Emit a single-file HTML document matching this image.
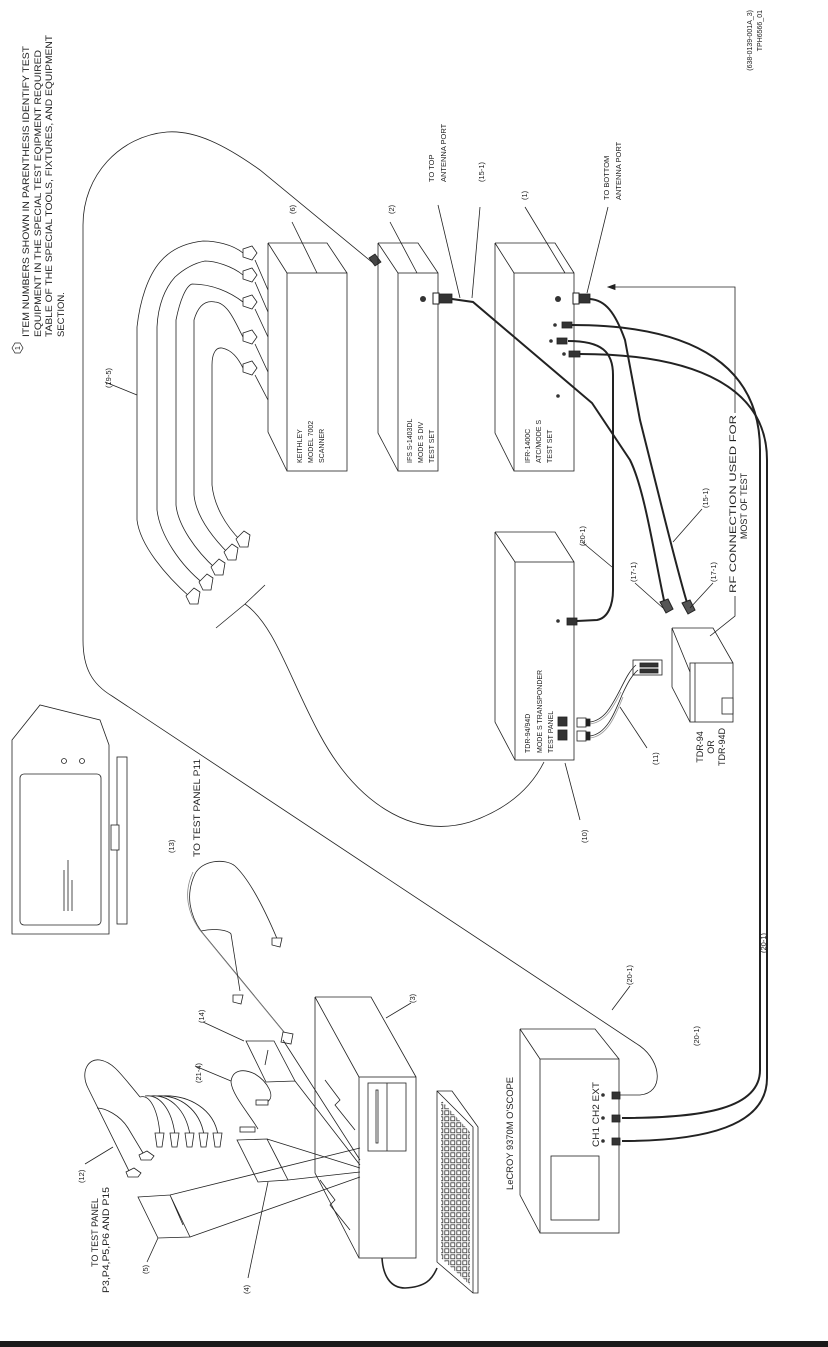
<!DOCTYPE html>
<html><head><meta charset="utf-8"><style>
html,body{margin:0;padding:0;background:#fff;}
svg{display:block;}
text{font-family:"Liberation Sans",sans-serif;fill:#222;}
.m{font-family:"Liberation Mono",monospace;font-size:7px;}
.l{font-size:7.5px;}
</style></head><body>
<svg width="828" height="1347" viewBox="0 0 828 1347" xmlns="http://www.w3.org/2000/svg">
<defs>
<pattern id="keys" width="6" height="6" patternUnits="userSpaceOnUse">
<rect x="0.8" y="0.8" width="4" height="4" fill="none" stroke="#333" stroke-width="0.8"/>
</pattern>
</defs>
<g fill="none" stroke="#222" stroke-width="0.8">

<path d="M373,263 L260,170 C225,145 195,130 167,132 C120,136 83,175 83,225 L83,640 C83,668 92,684 112,696 L640,1046 C662,1062 664,1093 640,1095 L620,1095"/>
<path d="M369,258 l6,-4 l6,8 l-6,4 z" fill="#444"/>

<path d="M243,253 C232,244 215,241 203,241 C185,243 170,250 160,262 C148,276 140,300 137,327 L137,520 C140,545 165,575 191,598"/>
<path d="M243,275 C232,266 215,261 205,261 C195,263 185,268 175,277 C165,288 158,305 157,327 L157,510 C160,535 180,565 204,584"/>
<path d="M243,302 C230,292 212,284 192,284 C186,286 180,300 176,320 L176,505 C178,525 195,550 216,569"/>
<path d="M243,337 C235,322 228,303 215,302 C205,300 198,306 194,320 L194,495 C196,515 210,535 229,554"/>
<path d="M243,368 C238,358 232,350 222,348 C215,347 212,355 212,365 L212,485 C214,505 225,525 241,541"/>
<g fill="#fff">
<path d="M243,249 l9,-3 l5,7 l-5,7 l-9,-3 z"/><path d="M243,271 l9,-3 l5,7 l-5,7 l-9,-3 z"/>
<path d="M243,298 l9,-3 l5,7 l-5,7 l-9,-3 z"/><path d="M243,333 l9,-3 l5,7 l-5,7 l-9,-3 z"/>
<path d="M243,364 l9,-3 l5,7 l-5,7 l-9,-3 z"/>
<path d="M186,596 l8,-8 l6,4 l-2,12 l-8,0 z"/><path d="M199,582 l8,-8 l6,4 l-2,12 l-8,0 z"/>
<path d="M211,567 l8,-8 l6,4 l-2,12 l-8,0 z"/><path d="M224,552 l8,-8 l6,4 l-2,12 l-8,0 z"/>
<path d="M236,539 l8,-8 l6,4 l-2,12 l-8,0 z"/>
</g>
<path d="M255,260 L268,290 M255,282 L268,312 M255,309 L268,337 M255,344 L268,372 M255,375 L268,400"/>
<path d="M216,628 L245,604 L265,585"/>
<path d="M245,604 C275,625 290,680 320,735 C355,800 410,840 470,822 C505,810 530,790 544,762"/>

<path d="M268,243 L327,243 L347,273 M268,243 L287,273 M268,243 L268,432 L287,471"/>
<rect x="287" y="273" width="60" height="198"/>
<path d="M378,243 L418,243 L438,273 M378,243 L398,273 M378,243 L378,433 L398,471"/>
<rect x="398" y="273" width="40" height="198"/>
<path d="M495,243 L555,243 L574,273 M495,243 L514,273 M495,243 L495,433 L514,471"/>
<rect x="514" y="273" width="60" height="198"/>
<path d="M495,532 L555,532 L574,562 M495,532 L515,562 M495,532 L495,722 L515,760"/>
<rect x="515" y="562" width="59" height="198"/>
<path d="M520,1029 L595,1029 L619,1059 M520,1029 L540,1059 M520,1029 L520,1195 L540,1233"/>
<rect x="540" y="1059" width="79" height="174"/>
<rect x="551" y="1156" width="48" height="64"/>
<path d="M315,997 L371,997 L416,1077 M315,997 L359,1077 M315,997 L315,1173 L359,1258"/>
<rect x="359" y="1077" width="57" height="181"/>
<rect x="368" y="1083" width="38" height="68"/><path d="M387,1083 L387,1151"/>
<rect x="376" y="1090" width="2" height="53"/>
<path d="M320,1180 l15,20 l-5,5 l20,25 M325,1080 l15,20 l-5,5 l20,25"/>
<path d="M437,1091 L452,1091 L478,1127 L478,1293 L473,1293 L437,1262 Z M437,1091 L473,1127 L473,1293"/>
<path d="M441,1100 L470,1132 L470,1285 L441,1258 Z" fill="url(#keys)" stroke="none"/>
<path d="M382,1258 C383,1275 390,1288 405,1288 C425,1287 432,1280 437,1268" stroke-width="1.6"/>

<path d="M672,628 L713,628 L733,663 M672,628 L690,672 M672,628 L672,687 L690,722"/>
<rect x="690" y="663" width="43" height="59"/>
<path d="M695,663 L695,722"/>
<rect x="722" y="698" width="11" height="16" fill="#fff"/>
<rect x="633" y="660" width="29" height="15" fill="#fff"/>
<rect x="640" y="663" width="18" height="4" fill="#333"/><rect x="640" y="669" width="18" height="4" fill="#333"/>
<path d="M590,722 C605,720 612,705 620,690 C626,678 630,670 636,665 M590,736 C607,734 615,712 622,695 C628,682 632,675 638,670"/>
<path d="M590,724 C606,722 613,707 621,692 M590,738 C608,736 616,714 623,697" stroke="#999"/>
<rect x="577" y="718" width="9" height="9" fill="#fff"/><rect x="577" y="731" width="9" height="10" fill="#fff"/>
<rect x="586" y="719" width="4" height="7" fill="#222"/><rect x="586" y="732" width="4" height="8" fill="#222"/>
<rect x="558" y="717" width="9" height="9" fill="#333"/><rect x="558" y="730" width="9" height="10" fill="#333"/>

<g stroke-width="2">
<path d="M577,621 L597,620 C608,618 613,605 613,590 L613,375 C613,352 602,341 568,341"/>
<path d="M452,299 L473,302 L592,403 L630,460 C645,490 655,560 665,605"/>
<path d="M590,299 C605,300 615,312 625,340 L640,420 L660,500 C670,540 680,580 688,606"/>
<path d="M572,325 C700,325 760,370 760,450 L760,1070 C760,1108 705,1118 622,1118"/>
<path d="M580,354 C700,354 767,390 767,460 L767,1078 C767,1126 705,1141 622,1141"/>
</g>
<rect x="433" y="293" width="6" height="11" fill="#fff" stroke-width="1"/><rect x="439" y="294" width="13" height="9" fill="#333"/>
<rect x="573" y="293" width="6" height="11" fill="#fff" stroke-width="1"/><rect x="579" y="294" width="11" height="9" fill="#333"/>
<rect x="562" y="322" width="10" height="6" fill="#333"/><rect x="557" y="338" width="10" height="6" fill="#333"/><rect x="569" y="351" width="11" height="6" fill="#333"/>
<rect x="567" y="618" width="10" height="7" fill="#333"/>
<rect x="612" y="1092" width="8" height="7" fill="#333"/><rect x="612" y="1115" width="8" height="7" fill="#333"/><rect x="612" y="1138" width="8" height="7" fill="#333"/>
<g fill="#333" stroke="none">
<circle cx="423" cy="299" r="3"/><circle cx="558" cy="299" r="3"/><circle cx="555" cy="325" r="1.8"/><circle cx="551" cy="341" r="1.8"/><circle cx="564" cy="354" r="1.8"/><circle cx="558" cy="396" r="1.8"/><circle cx="558" cy="621" r="1.8"/>
<circle cx="603" cy="1095" r="1.8"/><circle cx="603" cy="1118" r="1.8"/><circle cx="603" cy="1141" r="1.8"/>
</g>
<path d="M660,602 l8,-3 l5,10 l-7,4 z M682,603 l8,-3 l5,10 l-7,4 z" fill="#555" stroke-width="1"/>

<path d="M292,222 L317,273 M390,222 L417,273 M438,205 L460,298 M480,207 L472,298 M525,207 L565,273 M608,207 L587,293"/>
<path d="M105,382 L137,395"/>
<path d="M608,287 L735,287 L735,413"/><path d="M608,287 l7,-2.5 l0,5 z" fill="#222"/>
<path d="M735,596 L735,616 L710,636 M702,509 L673,542 M635,583 L663,608 M713,583 L690,608 M582,542 L612,567 M647,748 L620,707 M580,820 L565,763"/>
<path d="M411,1003 L386,1018 M203,1022 L244,1041 M195,1066 L231,1081 M630,986 L612,1010 M85,1164 L113,1147 M147,1262 L158,1238 M248,1278 L268,1182"/>

<path d="M12,740 L40,705 L100,720 L109,745 L109,934 L12,934 Z"/>
<rect x="20" y="774" width="81" height="151" rx="4"/>
<rect x="117" y="757" width="10" height="167"/>
<rect x="111" y="825" width="8" height="25" fill="#fff"/>
<path d="M64,870 L64,911 M68,860 L68,911 M72,880 L72,911"/>
<circle cx="64" cy="761" r="2.5"/><circle cx="82" cy="761" r="2.5"/>

<path d="M289,1038 L201,931 C190,915 185,895 195,874 C202,860 225,858 235,866 C250,880 265,910 278,941"/>
<path d="M287,1036 L199,929 C188,913 183,893 193,872" stroke="#888"/>
<path d="M201,931 C215,928 228,930 231,934 L240,991"/>
<path d="M283,1032 l10,2 l-2,10 l-10,-2 z M272,938 l10,0 l-2,9 l-8,-2 z M233,995 l10,0 l-2,9 l-8,-2 z" fill="#fff"/>
<path d="M246,1041 L274,1041 L295,1081 L266,1082 Z M274,1041 L295,1081 M268,1050 L265,1065 M283,1040 L360,1160 M295,1081 L360,1165"/>
<path d="M267,1102 C276,1097 268,1082 255,1074 C243,1068 232,1070 231,1082 C232,1095 250,1115 258,1129"/>
<rect x="256" y="1100" width="12" height="5" fill="#fff"/><rect x="240" y="1127" width="15" height="5" fill="#fff"/>
<path d="M130,1173 L88,1088 C80,1072 88,1058 100,1060 C112,1062 118,1070 140,1097"/>
<path d="M143,1153 L128,1128 C120,1115 105,1108 97,1108"/>
<path d="M140,1097 C150,1094 158,1110 160,1135 M145,1096 C160,1094 172,1110 175,1135 M150,1096 C170,1094 186,1110 190,1135 M155,1096 C180,1094 200,1110 204,1135 M160,1096 C190,1094 214,1110 218,1135"/>
<g fill="#fff">
<path d="M126,1172 l8,-4 l7,5 l-3,4 l-10,0 z"/><path d="M139,1155 l8,-4 l7,5 l-3,4 l-10,0 z"/>
<path d="M155,1133 l9,0 l-2,14 l-5,0 z"/><path d="M170,1133 l9,0 l-2,14 l-5,0 z"/><path d="M185,1133 l9,0 l-2,14 l-5,0 z"/><path d="M199,1133 l9,0 l-2,14 l-5,0 z"/><path d="M213,1133 l9,0 l-2,14 l-5,0 z"/>
</g>
<path d="M138,1197 L170,1195 L190,1237 L158,1238 Z M170,1195 L183,1225 M170,1195 L360,1148 M190,1237 L360,1177"/>
<path d="M237,1140 L267,1139 L288,1180 L258,1182 Z M267,1139 L283,1170 M267,1139 L360,1168 M288,1180 L360,1172"/>
</g>

<rect x="0" y="1341" width="828" height="6" fill="#1a1a1a"/>

<g font-size="9.5">
<polygon points="12,348 15,343 20,343 23,348 20,353 15,353" fill="none" stroke="#222" stroke-width="0.7"/>
<text font-size="7" transform="translate(20,348) rotate(-90)" text-anchor="middle">1</text>
<text transform="translate(29,337) rotate(-90)" textLength="291" lengthAdjust="spacingAndGlyphs">ITEM NUMBERS SHOWN IN PARENTHESIS IDENTIFY TEST</text>
<text transform="translate(41,337) rotate(-90)" textLength="287" lengthAdjust="spacingAndGlyphs">EQUIPMENT IN THE SPECIAL TEST EQIPMENT REQUIRED</text>
<text transform="translate(52,337) rotate(-90)" textLength="302" lengthAdjust="spacingAndGlyphs">TABLE OF THE SPECIAL TOOLS, FIXTURES, AND EQUIPMENT</text>
<text transform="translate(64,337) rotate(-90)">SECTION.</text>
</g>
<text font-size="7" transform="translate(752,10) rotate(-90)" text-anchor="end">(638-0139-001A_3)</text>
<text font-size="7" transform="translate(762,10) rotate(-90)" text-anchor="end">TPH6566_01</text>

<g class="l">
<text transform="translate(111,388) rotate(-90)">(19-5)</text>
<text transform="translate(295,214) rotate(-90)">(6)</text>
<text transform="translate(394,214) rotate(-90)">(2)</text>
<text transform="translate(434,182) rotate(-90)">TO TOP</text>
<text transform="translate(446,182) rotate(-90)">ANTENNA PORT</text>
<text transform="translate(484,182) rotate(-90)">(15-1)</text>
<text transform="translate(527,200) rotate(-90)">(1)</text>
<text transform="translate(609,200) rotate(-90)">TO BOTTOM</text>
<text transform="translate(621,200) rotate(-90)">ANTENNA PORT</text>
<text transform="translate(585,546) rotate(-90)">(20-1)</text>
<text transform="translate(636,582) rotate(-90)">(17-1)</text>
<text transform="translate(716,582) rotate(-90)">(17-1)</text>
<text transform="translate(708,508) rotate(-90)">(15-1)</text>
<text transform="translate(658,765) rotate(-90)">(11)</text>
<text transform="translate(587,843) rotate(-90)">(10)</text>
<text transform="translate(174,853) rotate(-90)">(13)</text>
<text transform="translate(415,1003) rotate(-90)">(3)</text>
<text transform="translate(204,1023) rotate(-90)">(14)</text>
<text transform="translate(201,1083) rotate(-90)">(21-4)</text>
<text transform="translate(632,985) rotate(-90)">(20-1)</text>
<text transform="translate(699,1046) rotate(-90)">(20-1)</text>
<text transform="translate(766,953) rotate(-90)">(20-1)</text>
<text transform="translate(84,1183) rotate(-90)">(12)</text>
<text transform="translate(148,1274) rotate(-90)">(5)</text>
<text transform="translate(249,1294) rotate(-90)">(4)</text>
</g>
<g font-size="9">
<text transform="translate(736,593) rotate(-90)" textLength="178" lengthAdjust="spacingAndGlyphs">RF CONNECTION USED FOR</text>
<text transform="translate(747,506) rotate(-90)" text-anchor="middle">MOST OF TEST</text>
<text transform="translate(703,747) rotate(-90)" text-anchor="middle">TDR-94</text>
<text transform="translate(714,747) rotate(-90)" text-anchor="middle">OR</text>
<text transform="translate(725,747) rotate(-90)" text-anchor="middle">TDR-94D</text>
<text transform="translate(200,857) rotate(-90)" textLength="98" lengthAdjust="spacingAndGlyphs">TO TEST PANEL P11</text>
<text transform="translate(98,1267) rotate(-90)">TO TEST PANEL</text>
<text transform="translate(109,1293) rotate(-90)" textLength="106" lengthAdjust="spacingAndGlyphs">P3,P4,P5,P6 AND  P15</text>
<text font-size="9.5" transform="translate(513,1190) rotate(-90)" textLength="113" lengthAdjust="spacingAndGlyphs">LeCROY 9370M O'SCOPE</text>
<text font-size="9.5" transform="translate(599,1147) rotate(-90)" textLength="65" lengthAdjust="spacingAndGlyphs">CH1 CH2 EXT</text>
</g>
<g class="m">
<text transform="translate(302,463) rotate(-90)">KEITHLEY</text>
<text transform="translate(313,463) rotate(-90)">MODEL 7002</text>
<text transform="translate(324,463) rotate(-90)">SCANNER</text>
<text transform="translate(412,463) rotate(-90)">IFS S-1403DL</text>
<text transform="translate(423,463) rotate(-90)">MODE S DIV</text>
<text transform="translate(434,463) rotate(-90)">TEST SET</text>
<text transform="translate(530,463) rotate(-90)">IFR-1400C</text>
<text transform="translate(541,463) rotate(-90)">ATC/MODE S</text>
<text transform="translate(552,463) rotate(-90)">TEST SET</text>
<text transform="translate(530,753) rotate(-90)">TDR-94/94D</text>
<text transform="translate(542,753) rotate(-90)">MODE S TRANSPONDER</text>
<text transform="translate(553,753) rotate(-90)">TEST PANEL</text>
</g>
</svg>
</body></html>
